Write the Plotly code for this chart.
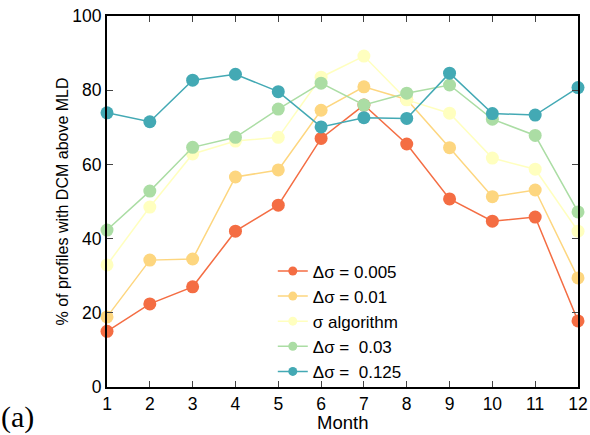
import plotly.graph_objects as go

months = list(range(1, 13))
names = ["Δσ = 0.005", "Δσ = 0.01", "σ algorithm", "Δσ =  0.03", "Δσ =  0.125"]
d005 = [15, 22.4, 27, 42, 49, 67, 76, 65.5, 50.7, 44.7, 45.8, 17.8]
d01 = [18.9, 34.2, 34.5, 56.6, 58.5, 74.6, 80.9, 77.5, 64.5, 51.3, 53.1, 29.4]
sig = [32.9, 48.5, 62.8, 66.3, 67.3, 83.5, 89.2, 77.4, 73.8, 61.7, 58.7, 42]
d03 = [42.3, 52.8, 64.6, 67.3, 74.9, 81.9, 76, 79.2, 81.4, 72.2, 67.8, 47.2]
d125 = [73.9, 71.5, 82.7, 84.3, 79.6, 70.1, 72.6, 72.4, 84.6, 73.7, 73.3, 80.7]
series = [d005, d01, sig, d03, d125]
colors = ["#f46d43", "#fdd67f", "#ffffbf", "#abdda4", "#43a9b4"]

fig = go.Figure()
for n, s, c in zip(names, series, colors):
    fig.add_trace(go.Scatter(x=months, y=s, name=n, mode="lines+markers",
                             line=dict(color=c, width=1.5),
                             marker=dict(color=c, size=13),
                             cliponaxis=False, showlegend=False))
# legend entries with small symbols, as in the reference
for n, c in zip(names, colors):
    fig.add_trace(go.Scatter(x=[None], y=[None], name=n, mode="lines+markers",
                             line=dict(color=c, width=1.5),
                             marker=dict(color=c, size=9)))

font = dict(family="Liberation Sans, Arial, sans-serif", size=17.5, color="black")
fig.update_layout(
    width=590, height=435,
    margin=dict(l=107, r=12, t=16, b=48, autoexpand=False),
    paper_bgcolor="white", plot_bgcolor="white",
    font=font,
    showlegend=True,
    legend=dict(x=0.352, y=0.36, xanchor="left", yanchor="top",
                bgcolor="rgba(0,0,0,0)", font=dict(size=17),
                tracegroupgap=0, itemwidth=30),
)
fig.update_xaxes(range=[1, 12], tickvals=months, ticks="inside", ticklen=6,
                 showline=True, linecolor="black", linewidth=2, mirror="ticks",
                 showgrid=False, zeroline=False, tickfont=font, automargin=False)
fig.update_yaxes(range=[0, 100], tickvals=[0, 20, 40, 60, 80, 100], ticks="inside",
                 ticklen=6, showline=True, linecolor="black", linewidth=2,
                 mirror="ticks", showgrid=False, zeroline=False, tickfont=font,
                 automargin=False)
fig.add_annotation(text="Month", xref="paper", yref="paper",
                   x=0.5, y=-0.096, xanchor="center", yanchor="middle", showarrow=False,
                   font=dict(family="Liberation Sans, Arial, sans-serif", size=18.5, color="black"))
fig.add_annotation(text="% of profiles with DCM above MLD", xref="paper", yref="paper",
                   x=-0.0955, y=0.5, xanchor="center", yanchor="middle",
                   textangle=-90, showarrow=False,
                   font=dict(family="Liberation Sans, Arial, sans-serif", size=16, color="black"))
fig.add_annotation(text="(a)", xref="paper", yref="paper", x=-0.229, y=-0.082,
                   xanchor="left", yanchor="middle", showarrow=False,
                   font=dict(family="Liberation Serif, serif", size=30, color="black"))
fig.write_html("out.html")
